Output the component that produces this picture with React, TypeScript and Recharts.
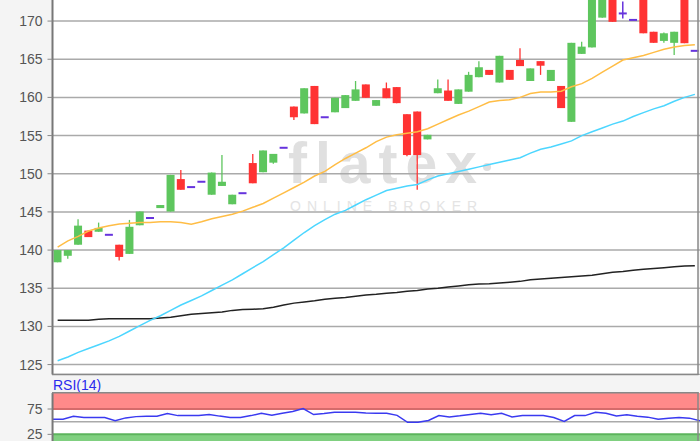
import React from 'react';
import { ComposedChart, Bar, Line, XAxis, YAxis, CartesianGrid, ReferenceArea, ReferenceLine } from 'recharts';

// ---- data ----
const openP = [138.4, 139.25, 140.7, 142.55, 142.4, 142.0, 140.7, 139.5, 143.25, 144.2,
  145.5, 145.05, 149.3, 148.25, 148.95, 147.25, 148.4, 146.0, 147.45, 151.4,
  150.2, 151.45, 153.4, 158.8, 157.9, 161.5, 157.4, 158.05, 158.6, 159.55,
  161.7, 158.9, 161.2, 161.35, 157.8, 158.15, 154.5, 160.55, 160.9, 159.15,
  160.75, 162.65, 163.6, 161.95, 163.6, 164.9, 162.15, 164.75, 162.15, 161.5,
  156.8, 165.7, 166.55, 170.45, 175.5, 171.0, 170.15, 175.0, 168.6, 167.4,
  167.15, 175.0, 166.1];
const highP = [140.0, 140.0, 144.05, 142.55, 143.6, 142.0, 140.7, 143.95, 145.05, 144.2,
  145.9, 149.85, 150.5, 148.25, 148.95, 150.15, 152.45, 147.25, 147.45, 152.6,
  153.05, 152.6, 153.4, 158.8, 161.2, 161.5, 157.4, 159.95, 160.3, 162.15,
  161.7, 159.65, 161.95, 161.35, 157.8, 158.15, 155.1, 162.35, 162.35, 161.05,
  163.35, 164.75, 163.6, 165.45, 163.6, 166.45, 163.8, 164.75, 163.6, 161.5,
  167.15, 167.3, 175.0, 175.5, 175.5, 172.55, 170.15, 175.0, 168.6, 168.5,
  168.6, 175.0, 166.1];
const lowP = [138.4, 138.85, 140.7, 141.7, 142.4, 142.0, 138.65, 139.5, 143.25, 144.2,
  145.5, 145.05, 147.9, 148.25, 148.95, 147.25, 148.4, 146.0, 147.45, 148.75,
  150.2, 151.3, 153.4, 157.05, 157.9, 156.5, 157.4, 158.05, 158.6, 159.55,
  159.95, 158.9, 159.9, 159.25, 152.3, 147.9, 154.5, 160.55, 159.55, 159.15,
  160.75, 162.65, 162.95, 161.95, 162.3, 164.1, 162.15, 162.95, 162.15, 158.6,
  156.8, 165.7, 166.55, 170.45, 169.9, 170.35, 170.15, 168.4, 167.15, 167.15,
  165.55, 167.1, 166.1];
const closeP = [140.0, 140.0, 143.2, 141.7, 142.9, 142.0, 139.1, 143.05, 145.05, 144.2,
  145.9, 149.85, 147.9, 148.25, 148.95, 150.15, 148.95, 147.25, 147.45, 148.75,
  153.05, 152.6, 153.4, 157.4, 161.2, 156.5, 157.4, 159.95, 160.3, 161.05,
  159.95, 159.65, 159.9, 159.25, 152.45, 152.45, 155.1, 161.2, 159.55, 161.05,
  162.95, 163.95, 162.95, 165.45, 162.3, 164.1, 163.8, 164.15, 163.6, 158.6,
  167.15, 166.65, 175.0, 175.5, 169.9, 171.0, 170.15, 168.4, 167.15, 168.4,
  168.6, 167.1, 166.1];
const ma20 = [140.4, 141.2, 141.8, 142.5, 142.9, 143.2, 143.4, 143.5, 143.6, 143.6,
  143.7, 143.7, 143.6, 143.4, 143.7, 144.1, 144.4, 144.7, 145.1, 145.6,
  146.1, 146.8, 147.5, 148.2, 148.9, 149.7, 150.3, 151.2, 152.0, 152.7,
  153.4, 154.2, 154.8, 155.1, 155.3, 155.5, 155.9, 156.5, 157.1, 157.7,
  158.2, 158.8, 159.4, 159.6, 159.7, 160.0, 160.5, 160.7, 160.7, 160.8,
  161.4, 161.8, 162.5, 163.3, 164.1, 164.9, 165.2, 165.5, 165.9, 166.3,
  166.6, 166.8, 166.9];
const ma50 = [125.5, 126.0, 126.6, 127.1, 127.6, 128.1, 128.7, 129.4, 130.1, 130.8,
  131.4, 132.1, 132.8, 133.4, 134.0, 134.7, 135.4, 136.1, 136.9, 137.7,
  138.5, 139.4, 140.3, 141.3, 142.3, 143.2, 144.0, 144.7, 145.2, 145.9,
  146.6, 147.2, 147.8, 148.1, 148.4, 148.6, 149.2, 149.7, 150.0, 150.3,
  150.6, 150.9, 151.2, 151.5, 151.8, 152.1, 152.7, 153.2, 153.5, 153.9,
  154.3, 155.0, 155.5, 156.0, 156.5, 156.9, 157.5, 158.0, 158.5, 158.9,
  159.5, 160.0, 160.4];
const ma200 = [130.8, 130.8, 130.8, 130.8, 130.95, 131.0, 131.0, 131.0, 131.0, 131.0,
  131.1, 131.2, 131.4, 131.6, 131.7, 131.8, 131.9, 132.1, 132.2, 132.25,
  132.3, 132.5, 132.8, 133.05, 133.2, 133.35, 133.55, 133.7, 133.8, 133.95,
  134.1, 134.2, 134.35, 134.45, 134.6, 134.7, 134.9, 135.0, 135.15, 135.3,
  135.45, 135.55, 135.6, 135.7, 135.8, 135.9, 136.1, 136.2, 136.3, 136.4,
  136.5, 136.6, 136.7, 136.9, 137.1, 137.2, 137.35, 137.5, 137.6, 137.7,
  137.8, 137.9, 137.95];
const rsi = [54.8, 55.0, 60.5, 58.4, 58.4, 58.4, 51.8, 57.5, 60.0, 60.7,
  60.7, 66.3, 62.0, 62.0, 62.0, 64.3, 61.0, 58.4, 58.4, 62.0,
  66.6, 62.5, 66.6, 70.0, 76.0, 64.0, 66.0, 68.5, 68.5, 68.5,
  67.0, 66.6, 66.6, 62.5, 48.8, 48.8, 52.3, 62.0, 59.5, 61.5,
  64.3, 66.6, 63.8, 66.6, 59.5, 62.0, 62.0, 62.0, 58.4, 50.5,
  62.0, 62.0, 68.5, 66.6, 61.3, 63.8, 60.7, 59.0, 54.8, 57.0,
  58.4, 57.0, 51.8];
const priceTicks = [125, 130, 135, 140, 145, 150, 155, 160, 165, 170];
const rsiTicks = [25, 75];

const rows = openP.map((o, i) => ({
  i, o, h: highP[i], l: lowP[i], c: closeP[i],
  ma20: ma20[i], ma50: ma50[i], ma200: ma200[i], rsi: rsi[i],
}));

const GREEN = '#5ec65e';
const RED = '#ff3333';
const PURPLE = '#6633dd';

const Candle = (props: any) => {
  const { x, y, width, height, payload } = props;
  if (x == null || y == null || !payload) return null;
  const { o, h, l, c } = payload;
  const range = h - l;
  const py = (v: number) => (range > 0 ? y + ((h - v) / range) * height : y);
  const cx = x + width / 2;
  if (o === c) {
    return (
      <g>
        {range > 0 && <line x1={cx} x2={cx} y1={py(h)} y2={py(l)} stroke={PURPLE} strokeWidth={1.5} />}
        <line x1={x} x2={x + width} y1={py(o)} y2={py(o)} stroke={PURPLE} strokeWidth={2} />
      </g>
    );
  }
  const col = c > o ? GREEN : RED;
  const top = py(Math.max(o, c));
  const bot = py(Math.min(o, c));
  return (
    <g>
      <line x1={cx} x2={cx} y1={py(h)} y2={py(l)} stroke={col} strokeWidth={1.3} />
      <rect x={x} y={top} width={width} height={Math.max(1, bot - top)} fill={col} />
    </g>
  );
};

const tickStyle = { fill: '#555', fontSize: 14, fontFamily: '"Liberation Sans", Arial, sans-serif' };

export default function App() {
  return (
    <div style={{ position: 'absolute', left: 0, top: 0, width: 700, height: 441, overflow: 'hidden', background: '#f4f4f4' }}>
      <svg width={700} height={441} style={{ position: 'absolute', left: 0, top: 0 }}>
        <rect x={53} y={0} width={645} height={374.5} fill="#ffffff" />
        <rect x={53} y={393} width={645} height={48} fill="#ffffff" />
        <text x={288} y={183} fontSize={57} fontWeight={700} letterSpacing={8} fill="#e0e0e0"
          fontFamily='"Liberation Sans", Arial, sans-serif'>flatex</text>
        <circle cx={487} cy={167} r={4} fill="#e0e0e0" />
        <text x={290} y={210.5} fontSize={14} letterSpacing={6} fill="#e4e4e4"
          fontFamily='"Liberation Sans", Arial, sans-serif'>ONLINE BROKER</text>
        <text x={53} y={390} fontSize={14} fill="#2a2aee"
          fontFamily='"Liberation Sans", Arial, sans-serif'>RSI(14)</text>
      </svg>

      <div style={{ position: 'absolute', left: 0, top: -40 }}>
        <ComposedChart width={700} height={414.5} data={rows} margin={{ top: 0, right: 0, bottom: 0, left: 0 }}>
          <CartesianGrid vertical={false} stroke="#aaaaaa" strokeWidth={1.5} />
          <XAxis dataKey="i" type="category" hide />
          <YAxis domain={[123.7, 178]} ticks={priceTicks} allowDataOverflow width={52.5}
            tick={tickStyle} tickSize={5} tickMargin={5}
            tickLine={{ stroke: '#888' }} axisLine={{ stroke: '#777', strokeWidth: 2 }} />
          <Line dataKey="ma200" stroke="#222222" strokeWidth={1.5} dot={false} isAnimationActive={false} />
          <Line dataKey="ma50" stroke="#4cd6ff" strokeWidth={1.5} dot={false} isAnimationActive={false} />
          <Line dataKey="ma20" stroke="#ffbd45" strokeWidth={1.5} dot={false} isAnimationActive={false} />
          <Bar dataKey={(d: any) => [d.l, d.h]} barSize={8} shape={<Candle />} isAnimationActive={false} />
        </ComposedChart>
      </div>

      <div style={{ position: 'absolute', left: 0, top: 393 }}>
        <ComposedChart width={700} height={57.4} data={rows} margin={{ top: 0, right: 0, bottom: 0, left: 0 }}>
          <XAxis dataKey="i" type="category" hide />
          <YAxis domain={[-6.6, 106.6]} ticks={rsiTicks} allowDataOverflow width={52.5}
            tick={tickStyle} tickSize={5} tickMargin={5}
            tickLine={{ stroke: '#888' }} axisLine={{ stroke: '#777', strokeWidth: 2 }} />
          <ReferenceArea y1={75} y2={106.6} fill="#ff8a8a" fillOpacity={1} stroke="none" />
          <ReferenceArea y1={-6.6} y2={25} fill="#80d080" fillOpacity={1} stroke="none" />
          <ReferenceLine y={75} stroke="#d56b6b" strokeWidth={2} />
          <ReferenceLine y={50} stroke="#aaaaaa" strokeWidth={1.5} />
          <ReferenceLine y={25} stroke="#5cb45c" strokeWidth={2} />
          <Line dataKey="rsi" stroke="#3a3af0" strokeWidth={1.5} dot={false} isAnimationActive={false} />
        </ComposedChart>
      </div>

      <svg width={700} height={441} style={{ position: 'absolute', left: 0, top: 0, pointerEvents: 'none' }}>
        <line x1={52} x2={698.5} y1={374.5} y2={374.5} stroke="#888" strokeWidth={1.5} />
        <line x1={698} x2={698} y1={0} y2={375} stroke="#888" strokeWidth={1.5} />
        <line x1={52} x2={698.5} y1={392.7} y2={392.7} stroke="#888" strokeWidth={1.5} />
        <line x1={698} x2={698} y1={392} y2={441} stroke="#888" strokeWidth={1.5} />
      </svg>
    </div>
  );
}
